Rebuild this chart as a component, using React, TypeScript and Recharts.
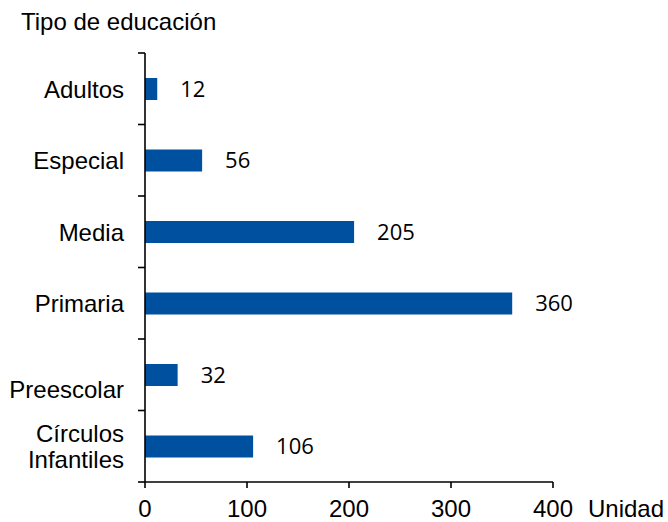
import { Bar, BarChart, LabelList, XAxis, YAxis } from 'recharts';

/*
 * Horizontal bars: units per education type. Category ticks sit at the band
 * boundaries in the original, so the custom tick draws those marks itself.
 */
const BAR = '#0050A0';
const INK = '#000000';
const SANS = '"Liberation Sans", Arial, sans-serif';
const NUM_FONT = '"Open Sans", "Noto Sans", sans-serif';
const LINE_W = 1.6;

const categories = ['Adultos', 'Especial', 'Media', 'Primaria', 'Preescolar', 'Círculos Infantiles'];
const units = [12, 56, 205, 360, 32, 106];
const xTicks = [0, 100, 200, 300, 400];

const data = categories.map((name, i) => ({ name, value: units[i] }));

const W = 668;
const H = 522;
const MARGIN = { top: 53, right: 115, bottom: 0, left: 0 };
const Y_AXIS_W = 145;
const X_AXIS_H = 40;
const LABEL_GAP = 21;
const BAND = (H - MARGIN.top - MARGIN.bottom - X_AXIS_H) / categories.length;

// two-line labels and the one that sits low in the original
const LINES: Record<string, string[]> = { 'Círculos Infantiles': ['Círculos', 'Infantiles'] };
const NUDGE: Record<string, number> = { Preescolar: 14 };

function CategoryTick({ x, y, payload, index }: any) {
  const label = String(payload.value);
  const lines = LINES[label] ?? [label];
  const lh = 26;
  const y0 = y + (NUDGE[label] ?? 0) - ((lines.length - 1) * lh) / 2;
  const ax = x + LABEL_GAP;
  const edges = index === categories.length - 1 ? [y - BAND / 2, y + BAND / 2] : [y - BAND / 2];
  return (
    <g>
      {edges.map((ey) => (
        <line key={ey} x1={ax - 7} x2={ax} y1={ey} y2={ey} stroke={INK} strokeWidth={LINE_W} />
      ))}
      <text x={x} y={y0} textAnchor="end" fontFamily={SANS} fontSize={24} fill={INK} dominantBaseline="central">
        {lines.map((l, i) => (
          <tspan key={l} x={x} dy={i === 0 ? 0 : lh}>
            {l}
          </tspan>
        ))}
      </text>
    </g>
  );
}

export default function App() {
  return (
    <div style={{ position: 'absolute', left: 0, top: 0, width: W, height: H, background: '#fff' }}>
      <BarChart width={W} height={H} data={data} layout="vertical" margin={MARGIN}>
        <XAxis
          type="number"
          domain={[0, 400]}
          ticks={xTicks}
          stroke={INK}
          axisLine={{ stroke: INK, strokeWidth: LINE_W }}
          tickLine={{ stroke: INK, strokeWidth: LINE_W }}
          tick={{ fill: INK, fontSize: 24, fontFamily: SANS }}
          tickSize={6}
          tickMargin={12}
          height={X_AXIS_H}
        />
        <YAxis
          type="category"
          dataKey="name"
          width={Y_AXIS_W}
          stroke={INK}
          axisLine={{ stroke: INK, strokeWidth: LINE_W }}
          tickLine={false}
          tickSize={0}
          tickMargin={LABEL_GAP}
          tick={CategoryTick}
          interval={0}
        />
        <Bar dataKey="value" fill={BAR} barSize={22} isAnimationActive={false}>
          <LabelList dataKey="value" position="right" offset={23} fill={INK} fontSize={22} fontFamily={NUM_FONT} />
        </Bar>
        <text x={21} y={30} fontFamily={SANS} fontSize={24} fill={INK}>
          Tipo de educación
        </text>
        <text x={588} y={517} fontFamily={SANS} fontSize={24} fill={INK}>
          Unidad
        </text>
      </BarChart>
    </div>
  );
}
